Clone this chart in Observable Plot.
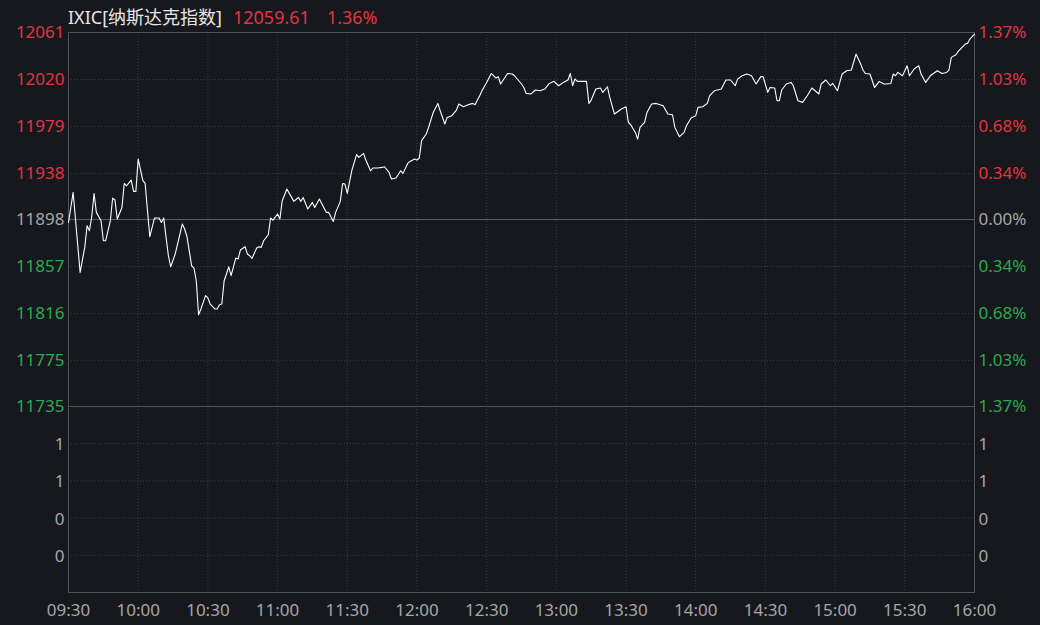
<!DOCTYPE html>
<html><head><meta charset="utf-8">
<script src="https://cdn.jsdelivr.net/npm/d3@7"></script>
<script src="https://cdn.jsdelivr.net/npm/@observablehq/plot@0.6"></script>
<style>
html,body{margin:0;padding:0;background:#16181e;}
#chart{position:relative;width:1040px;height:625px;background:#16181e;font-family:"Noto Sans","Noto Sans CJK SC",sans-serif;overflow:hidden}
#title{position:absolute;left:68px;top:4px;font-size:18px;line-height:26px;white-space:pre;color:#e6e6e6}
.p{position:absolute;left:0}
</style></head><body>
<div id="chart"><div id="title"></div></div>
<script>
const symbol = "IXIC[纳斯达克指数]";
const lastPrice = "12059.61";
const lastChange = "1.36%";
const prevClose = 11898;
const priceDomain = [11735, 12061];
const priceTicks = [12061, 12020, 11979, 11938, 11898, 11857, 11816, 11775, 11735];
const pctLabels = ["1.37%", "1.03%", "0.68%", "0.34%", "0.00%", "0.34%", "0.68%", "1.03%", "1.37%"];
const volTicks = [4, 3, 2, 1];
const volLabels = ["1", "1", "0", "0"];
const timeTicks = [0, 30, 60, 90, 120, 150, 180, 210, 240, 270, 300, 330, 360, 390];
const timeLabels = ["09:30","10:00","10:30","11:00","11:30","12:00","12:30","13:00","13:30","14:00","14:30","15:00","15:30","16:00"];

// minutes since 09:30
const minutes = [
0,2,5,7,8,9,10,11,12,14,
15,16,18,19,20,21,23,24,25,27,
28,29,30,32,33,34,35,37,39,40,
41,42,43,44,46,49,50,51,53,54,
55,56,57,59,60,61,63,64,65,66,
67,68,69,70,72,73,74,76,77,78,
79,81,82,83,84,86,87,88,90,91,
92,94,97,99,100,101,103,105,106,108,
111,112,114,115,117,118,119,120,122,124,
125,127,128,130,131,133,135,136,138,139,
141,143,144,146,147,149,150,151,152,154,
155,157,159,160,162,163,165,167,168,170,
172,174,175,177,178,180,182,184,185,186,
189,191,192,195,196,197,199,201,203,205,
207,209,211,213,215,216,217,218,219,223,
224,225,227,229,230,232,233,235,237,238,
240,241,242,244,245,246,248,249,251,253,
256,258,260,261,263,265,266,268,270,271,
273,275,276,278,281,283,285,287,288,290,
292,294,296,298,299,301,302,304,305,306,
307,309,311,312,314,316,318,320,323,324,
326,328,329,331,333,335,337,339,341,342,
343,345,347,349,351,352,354,355,356,357,
359,361,362,364,366,367,369,371,372,374,
376,378,379,380,382,383,386,387,388,390];
const prices = [
11895.4,11921.6,11851.9,11873.7,11892.6,11888.2,11900.4,11920.7,11904.2,11896.9,
11879.5,11879.5,11896.9,11916.7,11915.0,11898.4,11908.5,11929.4,11927.4,11932.4,
11922.5,11922.5,11950.7,11931.8,11929.4,11905.6,11883.0,11899.3,11899.3,11895.4,
11899.3,11882.4,11866.4,11856.8,11868.4,11894.1,11889.7,11883.0,11857.7,11855.7,
11844.6,11815.0,11820.0,11831.6,11829.6,11824.3,11820.0,11820.0,11823.7,11824.3,
11844.6,11850.5,11856.8,11849.0,11864.4,11863.5,11871.4,11874.3,11867.9,11866.4,
11864.1,11873.1,11874.3,11873.7,11879.5,11884.7,11899.3,11897.5,11902.8,11898.4,
11914.4,11924.6,11913.8,11917.2,11913.8,11917.2,11907.1,11912.9,11908.5,11915.8,
11904.2,11904.2,11896.3,11904.2,11913.8,11929.4,11928.9,11920.7,11941.1,11954.5,
11952.1,11955.6,11949.8,11940.5,11942.9,11942.9,11943.4,11944.0,11939.0,11933.3,
11934.2,11940.5,11938.2,11946.9,11948.6,11950.7,11949.8,11951.6,11966.7,11972.5,
11978.3,11991.3,11999.2,11992.8,11981.2,11987.0,11988.5,11993.4,11998.7,11996.3,
11998.0,11999.2,11998.0,12005.9,12010.2,12017.5,12025.3,12021.3,12022.5,12016.1,
12025.3,12024.8,12023.3,12016.1,12013.1,12007.9,12007.4,12010.9,12010.2,12011.7,
12016.6,12018.4,12014.6,12017.5,12019.6,12025.3,12014.6,12020.5,12018.4,12018.4,
11999.2,12002.1,12011.7,12012.6,12008.8,12013.7,12004.4,11989.9,11992.8,11994.3,
11996.3,11982.6,11980.6,11973.9,11968.1,11978.3,11982.6,11991.3,11998.7,11999.2,
11997.2,11990.0,11989.3,11978.3,11970.2,11973.9,11979.7,11986.4,11988.5,11995.7,
11996.3,11999.2,12005.9,12010.2,12011.7,12019.6,12019.6,12014.6,12020.4,12023.3,
12024.8,12023.3,12016.1,12022.5,12022.5,12008.8,12013.1,12012.6,12001.5,12001.5,
12010.9,12016.1,12017.5,12014.6,12001.5,12000.1,12005.9,12012.6,12007.4,12016.1,
12019.6,12014.6,12016.6,12010.2,12024.8,12027.7,12028.3,12042.2,12033.5,12028.3,
12025.3,12024.8,12013.1,12018.4,12016.1,12016.1,12016.6,12024.8,12023.3,12026.2,
12023.3,12032.0,12023.3,12029.2,12032.0,12024.8,12017.5,12023.3,12024.8,12027.7,
12025.3,12026.2,12028.3,12039.3,12041.6,12044.5,12050.9,12051.5,12055.3,12059.6];

const RED = "#e2353f", GREEN = "#2ea94f", GRAY = "#a6a6a6";
const GRID = "#3a3d44", BORDER = "#50535a";
const FONT = '"Noto Sans","Noto Sans CJK SC",sans-serif';
const colorFor = v => v > prevClose ? RED : v < prevClose ? GREEN : GRAY;

const data = minutes.map((m, i) => ({m, p: prices[i]}));
const W = 1040, ML = 68, MR = 66;

document.getElementById("title").innerHTML =
  `<span>${symbol}</span><span style="color:${RED};margin-left:11px">${lastPrice}</span><span style="color:${RED};margin-left:17px">${lastChange}</span>`;

const dotted = {stroke: GRID, strokeDasharray: "1,2"};

const p1 = Plot.plot({
  width: W, height: 408, marginTop: 32, marginBottom: 2, marginLeft: ML, marginRight: MR,
  style: {background: "transparent", fontFamily: FONT, fontSize: "17px", overflow: "visible"},
  x: {domain: [0, 390], axis: null},
  y: {domain: priceDomain, axis: null},
  marks: [
    Plot.ruleY(priceTicks.filter(t => t !== prevClose && t !== priceDomain[0] && t !== priceDomain[1]), dotted),
    Plot.ruleX(timeTicks.slice(1, -1), dotted),
    Plot.ruleY([prevClose], {stroke: "#5a5d63"}),
    Plot.frame({stroke: BORDER}),
    Plot.line(data, {x: "m", y: "p", stroke: "#ffffff", strokeWidth: 1.1}),
    Plot.text(priceTicks, {y: d => d, text: d => String(d), frameAnchor: "left", textAnchor: "end", dx: -4, fill: d => colorFor(d)}),
    Plot.text(pctLabels, {y: (d, i) => priceTicks[i], text: d => d, frameAnchor: "right", textAnchor: "start", dx: 4, fill: (d, i) => colorFor(priceTicks[i])})
  ]
});
p1.classList.add("p");
p1.style.top = "0px";

const p2 = Plot.plot({
  width: W, height: 231, marginTop: 6, marginBottom: 39, marginLeft: ML, marginRight: MR,
  style: {background: "transparent", fontFamily: FONT, fontSize: "17px", overflow: "visible"},
  x: {domain: [0, 390], axis: null},
  y: {domain: [0, 5], axis: null},
  marks: [
    Plot.ruleY(volTicks, dotted),
    Plot.ruleX(timeTicks.slice(1, -1), dotted),
    Plot.frame({stroke: BORDER}),
    Plot.text(volLabels, {y: (d, i) => volTicks[i], text: d => d, frameAnchor: "left", textAnchor: "end", dx: -4, dy: 1, fill: GRAY}),
    Plot.text(volLabels, {y: (d, i) => volTicks[i], text: d => d, frameAnchor: "right", textAnchor: "start", dx: 4, dy: 1, fill: GRAY}),
    Plot.text(timeLabels, {x: (d, i) => timeTicks[i], text: d => d, frameAnchor: "bottom", lineAnchor: "middle", dy: 18, fill: GRAY})
  ]
});
p2.classList.add("p");
p2.style.top = "400px";

const chart = document.getElementById("chart");
chart.appendChild(p1);
chart.appendChild(p2);
</script>
</body></html>
